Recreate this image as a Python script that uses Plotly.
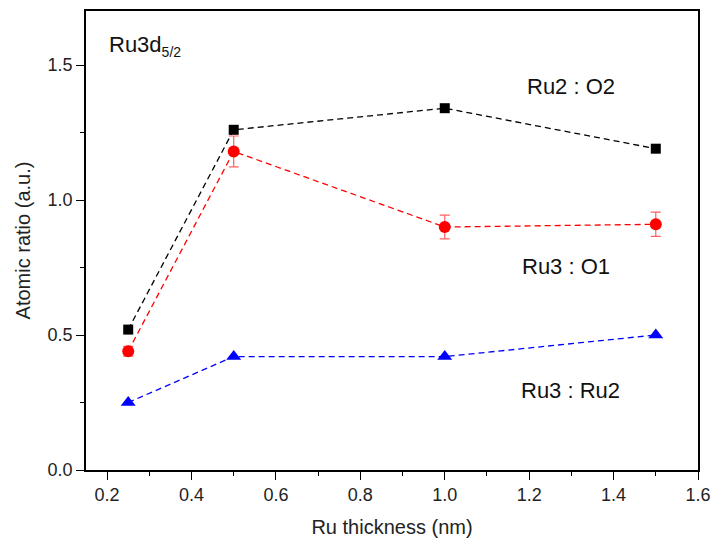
import plotly.graph_objects as go

thickness = [0.25, 0.5, 1.0, 1.5]
ru2_o2 = [0.52, 1.26, 1.34, 1.19]
ru3_o1 = [0.44, 1.18, 0.90, 0.91]
ru3_o1_err = [0.018, 0.057, 0.044, 0.045]
ru3_ru2 = [0.25, 0.42, 0.42, 0.50]

font = "Liberation Sans, Arial, sans-serif"
dash = "6px,4px"

fig = go.Figure()
fig.add_trace(go.Scatter(x=thickness, y=ru2_o2, mode="lines+markers",
                         line=dict(color="black", dash=dash, width=1.3),
                         marker=dict(symbol="square", size=10, color="black")))
fig.add_trace(go.Scatter(x=thickness, y=ru3_o1, mode="lines+markers",
                         line=dict(color="red", dash=dash, width=1.3),
                         marker=dict(symbol="circle", size=12, color="red"),
                         error_y=dict(type="data", array=ru3_o1_err, color="#ff6060",
                                      thickness=1.2, width=5)))
fig.add_trace(go.Scatter(x=thickness, y=ru3_ru2, mode="lines+markers",
                         line=dict(color="blue", dash=dash, width=1.3),
                         marker=dict(symbol="triangle-up", size=13, color="blue")))

fig.add_annotation(x=0.2, y=1.57, xref="x", yref="y",
                   text="Ru3d<sub><span style='font-size:14px'>5/2</span></sub>",
                   showarrow=False, xanchor="left", font=dict(size=22, color="#111", family=font))
fig.add_annotation(x=1.299, y=1.422, text="Ru2 : O2", showarrow=False,
                   font=dict(size=22, color="#111", family=font))
fig.add_annotation(x=1.287, y=0.752, text="Ru3 : O1", showarrow=False,
                   font=dict(size=22, color="#111", family=font))
fig.add_annotation(x=1.297, y=0.296, text="Ru3 : Ru2", showarrow=False,
                   font=dict(size=22, color="#111", family=font))

axis_common = dict(showgrid=False, zeroline=False, showline=True, linecolor="black",
                   linewidth=1.5, mirror=True, ticks="outside", ticklen=8, tickwidth=1.3,
                   tickcolor="black", tickfont=dict(size=18, color="#222", family=font),
                   automargin=False,
                   minor=dict(ticks="outside", ticklen=4, tickwidth=1.3, tickcolor="black"))

fig.update_xaxes(range=[0.15, 1.6], dtick=0.2, tick0=0.2, tickformat=".1f",
                 title=dict(text="Ru thickness (nm)", font=dict(size=20, color="#222", family=font),
                            standoff=16),
                 **axis_common)
fig.update_xaxes(minor_dtick=0.1, minor_tick0=0.1)
fig.update_yaxes(range=[0, 1.7], dtick=0.5, tickformat=".1f",
                 title=dict(text="Atomic ratio (a.u.)", font=dict(size=20, color="#222", family=font),
                            standoff=12),
                 **axis_common)
fig.update_yaxes(minor_dtick=0.25)

fig.update_layout(width=715, height=542, showlegend=False,
                  plot_bgcolor="white", paper_bgcolor="white",
                  margin=dict(l=86, r=17, t=11, b=72))
fig.write_html("out.html")
